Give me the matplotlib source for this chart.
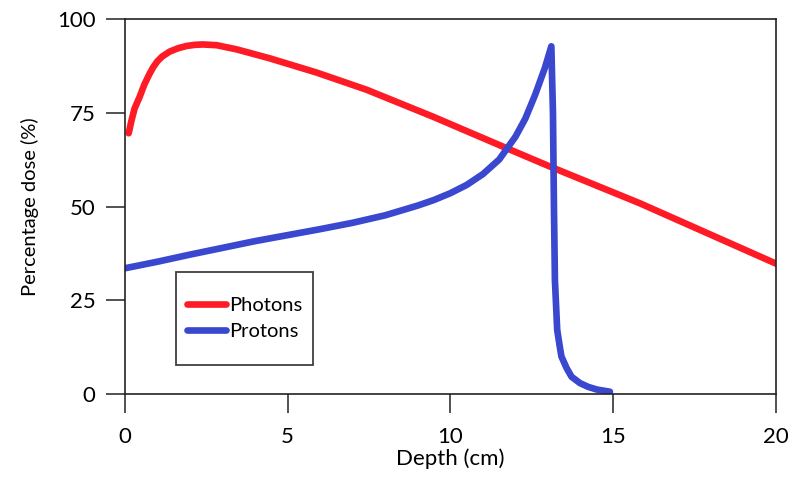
import matplotlib.pyplot as plt
from matplotlib.patches import Rectangle

# depth-dose curves
photon_depth = [0.12, 0.2, 0.3, 0.46, 0.6, 0.75, 0.87, 1.0, 1.15, 1.38, 1.64, 1.90,
                2.15, 2.40, 2.82, 3.43, 4.45, 5.89, 7.43, 9.47, 11.73, 13.06, 15.82, 20.0]
photon_dose = [69.6, 72.8, 76.2, 79.4, 82.6, 85.3, 87.2, 88.8, 90.1, 91.4, 92.3, 92.9,
               93.2, 93.3, 93.1, 92.0, 89.6, 85.8, 81.2, 74.0, 65.6, 60.7, 50.9, 34.8]

proton_depth = [0.03, 1.0, 2.0, 3.0, 4.0, 5.0, 6.0, 7.0, 8.0, 9.0, 9.5, 10.0, 10.5,
                11.0, 11.5, 12.0, 12.3, 12.6, 12.9, 13.10, 13.15, 13.18, 13.21, 13.28,
                13.36, 13.41, 13.57, 13.72, 13.98, 14.23, 14.49, 14.9]
proton_dose = [33.6, 35.3, 37.2, 39.0, 40.8, 42.4, 44.0, 45.7, 47.7, 50.3, 51.8, 53.6, 55.8,
               58.7, 62.6, 68.7, 73.5, 79.8, 87.0, 92.8, 75.0, 50.0, 30.4, 17.1,
               12.6, 10.0, 6.9, 4.6, 2.9, 1.9, 1.2, 0.6]

x_ticks = [0, 5, 10, 15, 20]
y_ticks = [0, 25, 50, 75, 100]

plt.rcParams['font.family'] = ['Lato', 'DejaVu Sans']

fig = plt.figure(figsize=(8, 4.84), dpi=100)
ax = fig.add_axes([0.156, 0.186, 0.814, 0.774])

ax.plot(photon_depth, photon_dose, color='#fe1b25', lw=4.8, label='Photons',
        solid_capstyle='round', solid_joinstyle='round')
ax.plot(proton_depth, proton_dose, color='#3a47cf', lw=4.8, label='Protons',
        solid_capstyle='round', solid_joinstyle='round')

ax.set_xlim(0, 20)
ax.set_ylim(0, 100)
ax.set_xticks(x_ticks)
ax.set_yticks(y_ticks)
ax.tick_params(direction='out', length=14, width=1.1, labelsize=16, color='#222222')
ax.tick_params(axis='y', pad=7)
ax.tick_params(axis='x', pad=10)
for s in ax.spines.values():
    s.set_color('#222222')
    s.set_linewidth(1.2)

ax.set_xlabel('Depth (cm)', fontsize=16, labelpad=1)
ax.set_ylabel('Percentage dose (%)', fontsize=14.5, labelpad=13)

# legend box
ax.add_patch(Rectangle((0.078, 0.077), 0.211, 0.249, transform=ax.transAxes,
                       fill=False, edgecolor='#404040', lw=1.3, zorder=5))
ax.legend(loc='center', bbox_to_anchor=(0.1835, 0.2015), frameon=False, fontsize=14.5,
          handlelength=1.95, handletextpad=0.15, labelspacing=0.45)

fig.savefig('out.png', dpi=100)
